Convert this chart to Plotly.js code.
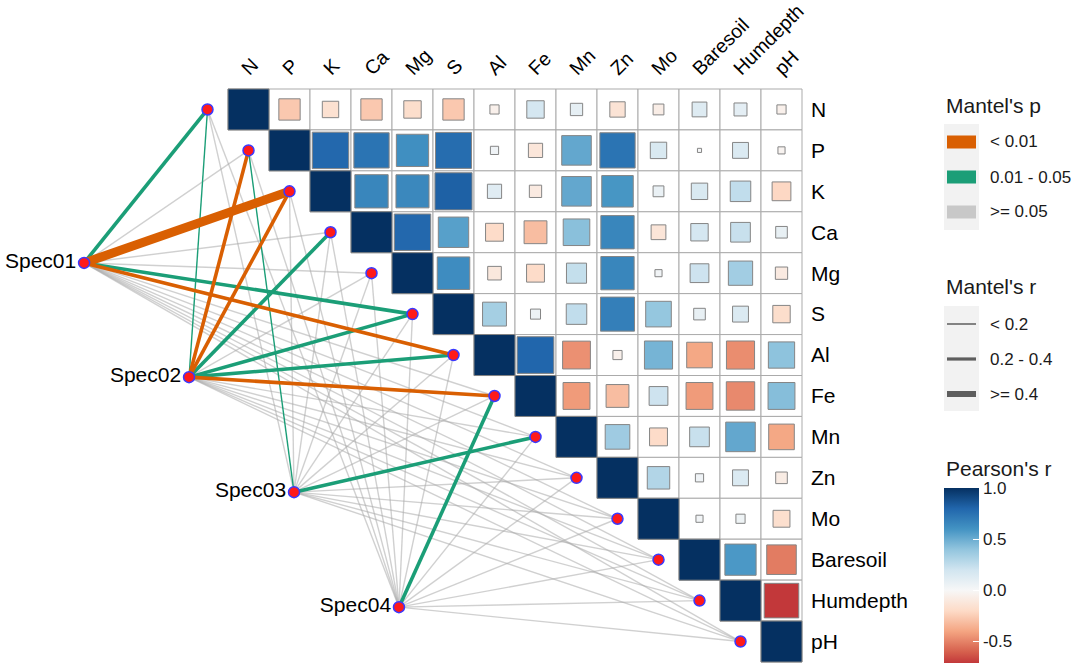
<!DOCTYPE html>
<html>
<head>
<meta charset="utf-8">
<script src="https://cdn.plot.ly/plotly-3.0.1.min.js"></script>
<style>html,body{margin:0;padding:0;background:#fff;}#chart{width:1080px;height:670px;}</style>
</head>
<body>
<div id="chart"></div>
<script>
// ---------------- DATA ----------------
const envVars = ['N','P','K','Ca','Mg','S','Al','Fe','Mn','Zn','Mo','Baresoil','Humdepth','pH'];

// Pearson's r, upper triangle: each row lists the columns to the right of the diagonal
const rN        = [-0.27,-0.16,-0.27,-0.18,-0.27,-0.05,0.18,0.09,-0.14,-0.07,0.13,0.10,-0.05];
const rP        = [0.79,0.74,0.62,0.77,0.04,-0.12,0.52,0.74,0.16,0.01,0.15,-0.03];
const rK        = [0.66,0.65,0.82,0.12,-0.09,0.52,0.59,0.07,0.16,0.25,-0.21];
const rCa       = [0.79,0.55,-0.19,-0.31,0.42,0.66,-0.13,0.18,0.23,0.08];
const rMg       = [0.63,-0.11,-0.19,0.24,0.66,0.03,0.21,0.35,-0.09];
const rS        = [0.34,0.06,0.25,0.69,0.39,0.08,0.15,-0.18];
const rAl       = [0.80,-0.46,-0.05,0.47,-0.39,-0.47,0.41];
const rFe       = [-0.43,-0.31,0.21,-0.43,-0.48,0.43];
const rMn       = [0.36,-0.19,0.23,0.52,-0.39];
const rZn       = [0.30,0.04,0.15,-0.08];
const rMo       = [0.03,0.05,-0.17];
const rBaresoil = [0.58,-0.52];
const rHumdepth = [-0.71];
const pearsonRows = [rN,rP,rK,rCa,rMg,rS,rAl,rFe,rMn,rZn,rMo,rBaresoil,rHumdepth,[]];

const specs = ['Spec01','Spec02','Spec03','Spec04'];
// Mantel's r and p for each species set, in envVars order
const mantelR01 = [0.28,0.12,0.45,0.10,0.08,0.25,0.31,0.09,0.06,0.05,0.07,0.04,0.05,0.03];
const mantelP01 = [0.03,0.12,0.001,0.18,0.25,0.02,0.004,0.21,0.33,0.41,0.29,0.52,0.47,0.66];
const mantelR02 = [0.15,0.33,0.36,0.24,0.11,0.27,0.26,0.35,0.08,0.06,0.05,0.07,0.04,0.09];
const mantelP02 = [0.04,0.002,0.001,0.02,0.09,0.03,0.02,0.003,0.28,0.37,0.45,0.31,0.58,0.22];
const mantelR03 = [0.06,0.17,0.08,0.05,0.07,0.04,0.09,0.11,0.22,0.06,0.03,0.05,0.04,0.07];
const mantelP03 = [0.38,0.04,0.27,0.49,0.35,0.61,0.19,0.13,0.03,0.42,0.74,0.56,0.63,0.33];
const mantelR04 = [0.05,0.07,0.04,0.06,0.09,0.05,0.12,0.23,0.08,0.04,0.06,0.07,0.05,0.03];
const mantelP04 = [0.51,0.36,0.62,0.44,0.27,0.55,0.11,0.02,0.31,0.68,0.47,0.39,0.58,0.81];
const mantelR = [mantelR01,mantelR02,mantelR03,mantelR04];
const mantelP = [mantelP01,mantelP02,mantelP03,mantelP04];

const pLabels = ['< 0.01','0.01 - 0.05','>= 0.05'];
const rLabels = ['< 0.2','0.2 - 0.4','>= 0.4'];
const cbTicks = [-0.5,0,0.5,1];
const cbTickText = ['-0.5','0.0','0.5','1.0'];

// ---------------- LAYOUT CONSTANTS ----------------
const W = 1080, H = 670;
const CELL = 41;                 // px per cell
const GX0 = 228, GY0 = 89, GY1 = 662;
const yUnit = (GY1-GY0)/14;
const xr0 = 0.5 - GX0/CELL, xr1 = xr0 + W/CELL;
const yr0 = 0.5 - GY0/yUnit, yr1 = yr0 + H/yUnit;
const specPos = [[-3.01,4.75],[-0.45,7.54],[2.11,10.35],[4.67,13.16]];
const FONT = 'Liberation Sans, Arial, Helvetica, sans-serif';

const pColors = ['#D95F02','#1B9E77','rgba(170,170,170,0.55)'];
const rWidths = [1.4,3.6,9];

// ---------------- COLOUR SCALE ----------------
const rdbu = ['#67001F','#B2182B','#D6604D','#F4A582','#FDDBC7','#F7F7F7','#D1E5F0','#92C5DE','#4393C3','#2166AC','#053061'];
function hex2rgb(h){return [1,3,5].map(k=>parseInt(h.substr(k,2),16));}
function colAt(v){
  const t=(v+1)/0.2; let k=Math.floor(t); if(k>=10)k=9; if(k<0)k=0;
  const f=t-k; const a=hex2rgb(rdbu[k]), b=hex2rgb(rdbu[k+1]);
  return 'rgb('+a.map((x,q)=>Math.round(x+(b[q]-x)*f)).join(',')+')';
}
let allR=[]; pearsonRows.forEach(r=>allR=allR.concat(r));
const cmin=Math.min(...allR), cmax=1;
const cscale=[[0,colAt(cmin)]];
for(let k=0;k<=10;k++){const v=-1+0.2*k; if(v>cmin+1e-9){cscale.push([(v-cmin)/(cmax-cmin),rdbu[k]]);}}

// ---------------- TRACES ----------------
const traces=[];
// edges
const edgeGroups={};
specs.forEach((s,si)=>{
  envVars.forEach((v,vi)=>{
    const p=mantelP[si][vi], r=mantelR[si][vi];
    const pc = p<0.01?0:(p<0.05?1:2);
    const rc = r<0.2?0:(r<0.4?1:2);
    const key=pc+'_'+rc;
    if(!edgeGroups[key])edgeGroups[key]={pc,rc,x:[],y:[]};
    edgeGroups[key].x.push(specPos[si][0], vi, null);
    edgeGroups[key].y.push(specPos[si][1], vi+1, null);
  });
});
Object.values(edgeGroups).sort((a,b)=>(b.pc-a.pc)||(a.rc-b.rc)).forEach(g=>{
  traces.push({type:'scatter',mode:'lines',x:g.x,y:g.y,hoverinfo:'skip',showlegend:false,
    line:{color:pColors[g.pc],width:rWidths[g.rc]}});
});

// correlation squares
const sqX=[],sqY=[],sqR=[],sqS=[];
envVars.forEach((v,i)=>{
  sqX.push(i+1); sqY.push(i+1); sqR.push(1); sqS.push(CELL);
  pearsonRows[i].forEach((r,k)=>{
    const j=i+1+k;
    sqX.push(j+1); sqY.push(i+1); sqR.push(r); sqS.push(Math.sqrt(Math.abs(r))*CELL);
  });
});
traces.push({type:'scatter',mode:'markers',x:sqX,y:sqY,hoverinfo:'skip',showlegend:false,
  marker:{symbol:'square',size:sqS,opacity:1,color:sqR,colorscale:cscale,cmin:cmin,cmax:cmax,
    line:{color:'#858585',width:1},
    showscale:true,
    colorbar:{x:944/W,xanchor:'left',y:1-663/H,yanchor:'bottom',len:175,lenmode:'pixels',
      thickness:35,thicknessmode:'pixels',outlinewidth:0,xpad:0,ypad:0,
      tickvals:cbTicks,ticktext:cbTickText,
      ticks:'inside',ticklen:6,tickcolor:'#ffffff',tickwidth:1,
      tickfont:{family:FONT,size:17,color:'#1a1a1a'}}}});

// environment nodes
traces.push({type:'scatter',mode:'markers',x:envVars.map((v,i)=>i),y:envVars.map((v,i)=>i+1),
  hoverinfo:'skip',showlegend:false,
  marker:{size:11,opacity:1,color:'#FF1A1A',line:{color:'#3A3AFF',width:1.5}}});
// species nodes + labels
traces.push({type:'scatter',mode:'markers+text',x:specPos.map(p=>p[0]),y:specPos.map(p=>p[1]),
  text:specs,textposition:'middle left',textfont:{family:FONT,size:21,color:'#000'},
  hoverinfo:'skip',showlegend:false,
  marker:{size:11,opacity:1,color:'#FF1A1A',line:{color:'#3A3AFF',width:1.5}}});
// dummy trace for label axes
traces.push({type:'scatter',mode:'markers',x:[1],y:[1],xaxis:'x2',yaxis:'y2',
  marker:{opacity:0},hoverinfo:'skip',showlegend:false});

// ---------------- SHAPES (grid + legends) ----------------
const shapes=[];
envVars.forEach((v,i)=>{
  for(let j=i;j<14;j++){
    shapes.push({type:'rect',xref:'x',yref:'y',x0:j+0.5,x1:j+1.5,y0:i+0.5,y1:i+1.5,
      line:{color:'#ABABAB',width:1},fillcolor:'#ffffff',layer:'below'});
  }
});
const px=x=>x/W, py=y=>1-y/H;
const annotations=[];
function legTitle(t,y){annotations.push({xref:'paper',yref:'paper',x:px(944),y:py(y),xanchor:'left',yanchor:'middle',
  text:t,showarrow:false,font:{family:FONT,size:21,color:'#1a1a1a'}});}
function legLabel(t,y){annotations.push({xref:'paper',yref:'paper',x:px(988),y:py(y),xanchor:'left',yanchor:'middle',
  text:t,showarrow:false,font:{family:FONT,size:17,color:'#1a1a1a'}});}
// Mantel's p
legTitle("Mantel's p",106);
shapes.push({type:'rect',xref:'paper',yref:'paper',x0:px(944),x1:px(979),y0:py(124),y1:py(230),fillcolor:'#F2F2F2',line:{width:0},layer:'above'});
const pKeyY=[142,177,212];
pLabels.forEach((t,k)=>{
  const c = k===2?'#C8C8C8':pColors[k];
  shapes.push({type:'rect',xref:'paper',yref:'paper',x0:px(947),x1:px(976),y0:py(pKeyY[k]-6.5),y1:py(pKeyY[k]+6.5),fillcolor:c,line:{width:0},layer:'above'});
  legLabel(t,pKeyY[k]);
});
// Mantel's r
legTitle("Mantel's r",287);
shapes.push({type:'rect',xref:'paper',yref:'paper',x0:px(944),x1:px(979),y0:py(306),y1:py(411),fillcolor:'#F2F2F2',line:{width:0},layer:'above'});
const rKeyY=[324,359,394], rKeyW=[1.5,3.2,6];
rLabels.forEach((t,k)=>{
  shapes.push({type:'line',xref:'paper',yref:'paper',x0:px(947),x1:px(976),y0:py(rKeyY[k]),y1:py(rKeyY[k]),line:{color:'#5E5E5E',width:rKeyW[k]},layer:'above'});
  legLabel(t,rKeyY[k]);
});
// Pearson's r title
legTitle("Pearson's r",468);

const hidden={showgrid:false,zeroline:false,showline:false,showticklabels:false,ticks:''};
const layout={
  width:W,height:H,margin:{l:0,r:0,t:0,b:0},paper_bgcolor:'#fff',plot_bgcolor:'#fff',
  showlegend:false,
  xaxis:Object.assign({range:[xr0,xr1],domain:[0,1],fixedrange:true},hidden),
  yaxis:Object.assign({range:[yr1,yr0],domain:[0,1],fixedrange:true},hidden),
  xaxis2:{overlaying:'x',side:'top',anchor:'free',position:1-GY0/H,range:[xr0,xr1],
    tickmode:'array',tickvals:envVars.map((v,i)=>i+1),ticktext:envVars,tickangle:-45,
    showgrid:false,zeroline:false,showline:false,ticks:'',ticklabelstandoff:6,ticklabelshift:-6,
    tickfont:{family:FONT,size:19.5,color:'#000'}},
  yaxis2:{overlaying:'y',side:'right',anchor:'free',position:(GX0+14*CELL)/W,range:[yr1,yr0],
    tickmode:'array',tickvals:envVars.map((v,i)=>i+1),ticktext:envVars,
    showgrid:false,zeroline:false,showline:false,ticks:'',ticklabelstandoff:8,
    tickfont:{family:FONT,size:21,color:'#000'}},
  shapes:shapes,annotations:annotations
};
Plotly.newPlot('chart',traces,layout,{staticPlot:true,displayModeBar:false});
</script>
</body>
</html>
